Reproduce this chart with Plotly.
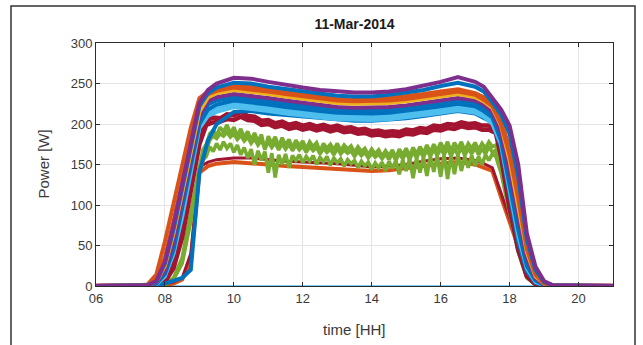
import plotly.graph_objects as go

# ---------------- data ----------------
# shared time grid for the smooth series [hours]
T = [6, 7, 7.5, 7.75, 8, 8.25, 8.5, 8.75, 9, 9.25, 9.5, 10, 10.5, 11, 11.5, 12,
     12.5, 13, 13.5, 14, 14.5, 15, 15.5, 16, 16.5, 17, 17.25, 17.5, 17.75, 18,
     18.25, 18.5, 18.75, 19, 19.25, 21]

zero_line = [0] * len(T)
orange_low = [0, 0, 0, 0, 1, 3, 8, 30, 140, 148, 151, 153, 152, 150, 148, 147,
              146, 145, 143, 142, 143, 145, 148, 151, 153, 150, 146, 142, 110, 80,
              47, 18, 4, 0, 0, 0]
darkred_low = [0, 0, 0, 0, 2, 5, 10, 40, 147, 153, 156, 158, 158, 156, 154, 153,
               152, 151, 149, 147, 148, 150, 154, 157, 158, 155, 151, 146, 115, 84,
               50, 20, 5, 1, 0, 0]
blue_steep = [0, 0, 0, 1, 3, 6, 10, 20, 140, 180, 200, 215, 216, 213, 211, 209,
              207, 205, 204, 204, 205, 207, 210, 213, 216, 213, 208, 202, 172, 110,
              55, 18, 4, 1, 0, 0]
lightblue_mid = [0, 0, 0, 2, 12, 40, 85, 140, 195, 210, 215, 221, 219, 216, 213, 210,
                 208, 206, 205, 205, 206, 208, 211, 214, 217, 214, 209, 200, 175, 118,
                 62, 22, 5, 1, 0, 0]
lightblue_225 = [0, 0, 0, 2, 14, 42, 90, 145, 198, 214, 220, 225, 223, 220, 217, 214,
                 212, 210, 209, 209, 210, 212, 215, 218, 221, 218, 212, 204, 178, 122,
                 66, 24, 6, 1, 0, 0]
blue_mid = [0, 0, 0, 3, 15, 45, 95, 150, 200, 218, 224, 229, 227, 224, 221, 218,
            216, 214, 213, 213, 214, 216, 219, 222, 225, 222, 216, 208, 180, 125,
            70, 25, 7, 1, 0, 0]
blue_233 = [0, 0, 0, 3, 18, 50, 100, 155, 205, 224, 229, 233, 231, 228, 225, 222,
            219, 217, 216, 216, 217, 219, 222, 225, 228, 225, 220, 212, 186, 132,
            78, 30, 8, 2, 0, 0]
purple_mid = [0, 0, 1, 4, 20, 55, 105, 160, 210, 228, 233, 237, 235, 232, 229, 226,
              223, 221, 220, 220, 221, 223, 226, 229, 232, 229, 224, 215, 190, 140,
              85, 35, 10, 2, 0, 0]
yellow_mid = [0, 0, 1, 5, 25, 65, 115, 165, 215, 233, 238, 242, 240, 237, 234, 231,
              228, 226, 225, 225, 226, 228, 231, 234, 237, 233, 228, 220, 198, 155,
              100, 42, 12, 3, 0, 0]
yellow_high = [0, 0, 1, 8, 35, 80, 130, 180, 225, 237, 241, 245, 243, 240, 237, 234,
               231, 229, 228, 228, 229, 231, 234, 237, 240, 236, 230, 222, 200, 162,
               108, 46, 14, 3, 0, 0]
orange_high = [0, 0, 2, 14, 55, 100, 145, 195, 232, 240, 244, 248, 246, 243, 240, 236,
               233, 231, 230, 230, 232, 234, 237, 240, 243, 238, 233, 224, 205, 170,
               115, 50, 16, 4, 1, 0]
blue_high = [0, 0, 1, 5, 28, 70, 120, 172, 222, 238, 245, 251, 250, 246, 243, 240,
             237, 235, 234, 234, 236, 239, 242, 247, 251, 246, 240, 227, 212, 188,
             135, 58, 20, 5, 1, 0]
purple_top = [0, 0, 1, 6, 30, 75, 125, 180, 226, 242, 250, 257, 256, 252, 248, 245,
              242, 240, 239, 239, 240, 243, 247, 252, 258, 252, 246, 231, 218, 198,
              150, 65, 24, 6, 1, 0]

# red (noisy) series, 0.2 h sampling on the plateau
TR = ([6, 7.5, 8.0, 8.25, 8.5, 8.75, 9.0]
      + [round(9.2 + 0.2 * k, 1) for k in range(43)]
      + [17.75, 18.0, 18.25, 18.5, 18.75, 19.0, 21])
red_a = ([0, 0, 8, 30, 75, 130, 185]
         + [204, 208, 207, 212, 211, 215, 210, 209, 204, 205,
            201, 203, 199, 201, 198, 200, 197, 199, 196, 198,
            195, 196, 193, 194, 191, 192, 190, 191, 190, 193,
            192, 195, 194, 198, 197, 200, 199, 202, 200, 201,
            198, 198, 193]
         + [165, 100, 48, 14, 3, 0, 0])
red_b = ([0, 0, 5, 22, 60, 115, 175]
         + [199, 202, 203, 206, 205, 209, 205, 204, 199, 200,
            196, 198, 194, 196, 193, 195, 192, 194, 191, 193,
            190, 191, 188, 189, 186, 187, 185, 186, 185, 188,
            187, 190, 189, 193, 192, 195, 194, 197, 195, 196,
            193, 193, 189]
         + [160, 96, 45, 12, 2, 0, 0])

# green (very noisy) series, 0.1 h sampling on the plateau
TG = ([6, 7.5, 8.0, 8.25, 8.5, 8.75, 9.0, 9.1]
      + [round(9.2 + 0.1 * k, 1) for k in range(85)]
      + [17.75, 18.0, 18.25, 18.5, 18.75, 19.0, 21])
green_a = ([0, 0, 3, 10, 35, 90, 150, 168]
           + [175, 188, 192, 186, 196, 190, 199, 188, 196, 185,
              194, 183, 191, 180, 189, 178, 187, 168, 185, 176,
              184, 172, 183, 174, 181, 170, 180, 173, 179, 169,
              178, 172, 177, 166, 176, 170, 175, 168, 176, 167,
              174, 169, 173, 165, 172, 166, 170, 162, 169, 163,
              168, 160, 167, 161, 168, 158, 169, 162, 170, 160,
              171, 163, 172, 164, 174, 165, 175, 167, 177, 168,
              178, 166, 177, 169, 178, 167, 176, 170, 177, 168,
              176, 170, 178, 172, 174]
           + [150, 95, 45, 12, 3, 0, 0])
green_b = ([0, 0, 2, 8, 28, 80, 140, 155]
           + [160, 172, 166, 176, 168, 178, 170, 176, 165, 174,
              162, 171, 158, 169, 150, 167, 155, 166, 140, 164,
              134, 162, 150, 163, 146, 161, 155, 162, 152, 160,
              154, 161, 150, 159, 153, 160, 149, 158, 152, 157,
              148, 156, 151, 155, 146, 154, 148, 153, 144, 152,
              146, 153, 142, 154, 145, 155, 138, 156, 142, 157,
              133, 158, 140, 159, 136, 160, 141, 161, 135, 162,
              132, 161, 138, 162, 142, 160, 146, 161, 148, 160,
              150, 162, 155, 163, 160]
           + [140, 90, 42, 10, 2, 0, 0])
green_c = ([0, 0, 2, 9, 30, 85, 145, 160]
           + [168, 180, 185, 182, 188, 185, 190, 184, 188, 181,
              186, 179, 184, 176, 182, 174, 180, 170, 178, 171,
              177, 168, 176, 169, 175, 167, 174, 168, 173, 165,
              172, 167, 171, 163, 170, 165, 169, 162, 170, 163,
              168, 164, 167, 160, 166, 161, 165, 158, 164, 159,
              163, 157, 163, 156, 164, 155, 164, 157, 165, 156,
              166, 158, 167, 159, 168, 160, 169, 161, 170, 162,
              171, 160, 170, 162, 171, 161, 170, 163, 171, 162,
              170, 163, 172, 165, 168]
           + [145, 92, 43, 11, 2, 0, 0])

# tick labels
x_tickvals = [6, 8, 10, 12, 14, 16, 18, 20]
x_ticktext = ["06", "08", "10", "12", "14", "16", "18", "20"]
y_tickvals = [0, 50, 100, 150, 200, 250, 300]

# MATLAB default colour order
C_BLUE = "#0072BD"
C_ORANGE = "#D95319"
C_YELLOW = "#EDB120"
C_PURPLE = "#7E2F8E"
C_GREEN = "#77AC30"
C_LBLUE = "#4DBEEE"
C_DRED = "#A2142F"

W = 4.0
series = [
    (T, zero_line, C_LBLUE, 1.5),
    (T, orange_low, C_ORANGE, 4.0),
    (T, darkred_low, C_DRED, 3.0),
    (TG, green_b, C_GREEN, 3.6),
    (TG, green_c, C_GREEN, 3.6),
    (TG, green_a, C_GREEN, 3.6),
    (TR, red_b, C_DRED, 4.5),
    (TR, red_a, C_DRED, 4.5),
    (T, blue_steep, C_BLUE, W),
    (T, lightblue_mid, C_LBLUE, W),
    (T, lightblue_225, C_LBLUE, W),
    (T, blue_mid, C_BLUE, W),
    (T, blue_233, C_BLUE, W),
    (T, purple_mid, C_PURPLE, W),
    (T, yellow_mid, C_YELLOW, W),
    (T, yellow_high, C_ORANGE, W),
    (T, orange_high, C_ORANGE, W),
    (T, blue_high, C_BLUE, W),
    (T, purple_top, C_PURPLE, W),
]

fig = go.Figure()
for xs, ys, col, w in series:
    fig.add_trace(go.Scatter(x=xs, y=ys, mode="lines",
                             line=dict(color=col, width=w),
                             showlegend=False, hoverinfo="skip"))

FONT = "Liberation Sans, Arial, Helvetica, sans-serif"
axis_common = dict(
    showgrid=True, gridcolor="#e4e4e4", gridwidth=1,
    zeroline=False,
    showline=True, linecolor="#2b2b2b", linewidth=1, mirror="allticks",
    ticks="inside", ticklen=4, tickcolor="#2b2b2b", tickwidth=1,
    tickfont=dict(family=FONT, size=13, color="#3a3a3a"),
)

fig.update_layout(
    width=643, height=345,
    margin=dict(l=96, r=30, t=43, b=59),
    paper_bgcolor="white", plot_bgcolor="white",
    xaxis=dict(range=[6, 21], tickvals=x_tickvals, ticktext=x_ticktext,
               **axis_common),
    yaxis=dict(range=[0, 300], tickvals=y_tickvals, **axis_common),
    title=dict(text="<b>11-Mar-2014</b>", x=0.5, xref="paper",
               y=1 - 24 / 345, yref="container", yanchor="middle",
               font=dict(family=FONT, size=14, color="#1a1a1a")),
    annotations=[
        dict(text="Power [W]", xref="paper", yref="paper",
             x=(43 - 96) / 517, y=0.5, textangle=-90, showarrow=False,
             xanchor="center", yanchor="middle",
             font=dict(family=FONT, size=15, color="#3a3a3a")),
        dict(text="time [HH]", xref="paper", yref="paper",
             x=0.5, y=-(329 - 286) / 243, showarrow=False,
             xanchor="center", yanchor="middle",
             font=dict(family=FONT, size=15, color="#3a3a3a")),
    ],
    shapes=[
        dict(type="rect", xref="paper", yref="paper",
             x0=(11 - 96) / 517, x1=(635 - 96) / 517,
             y0=-0.6, y1=(286 - 6) / 243,
             line=dict(color="#333333", width=1.5), layer="below"),
    ],
)

fig.write_html("out.html")
